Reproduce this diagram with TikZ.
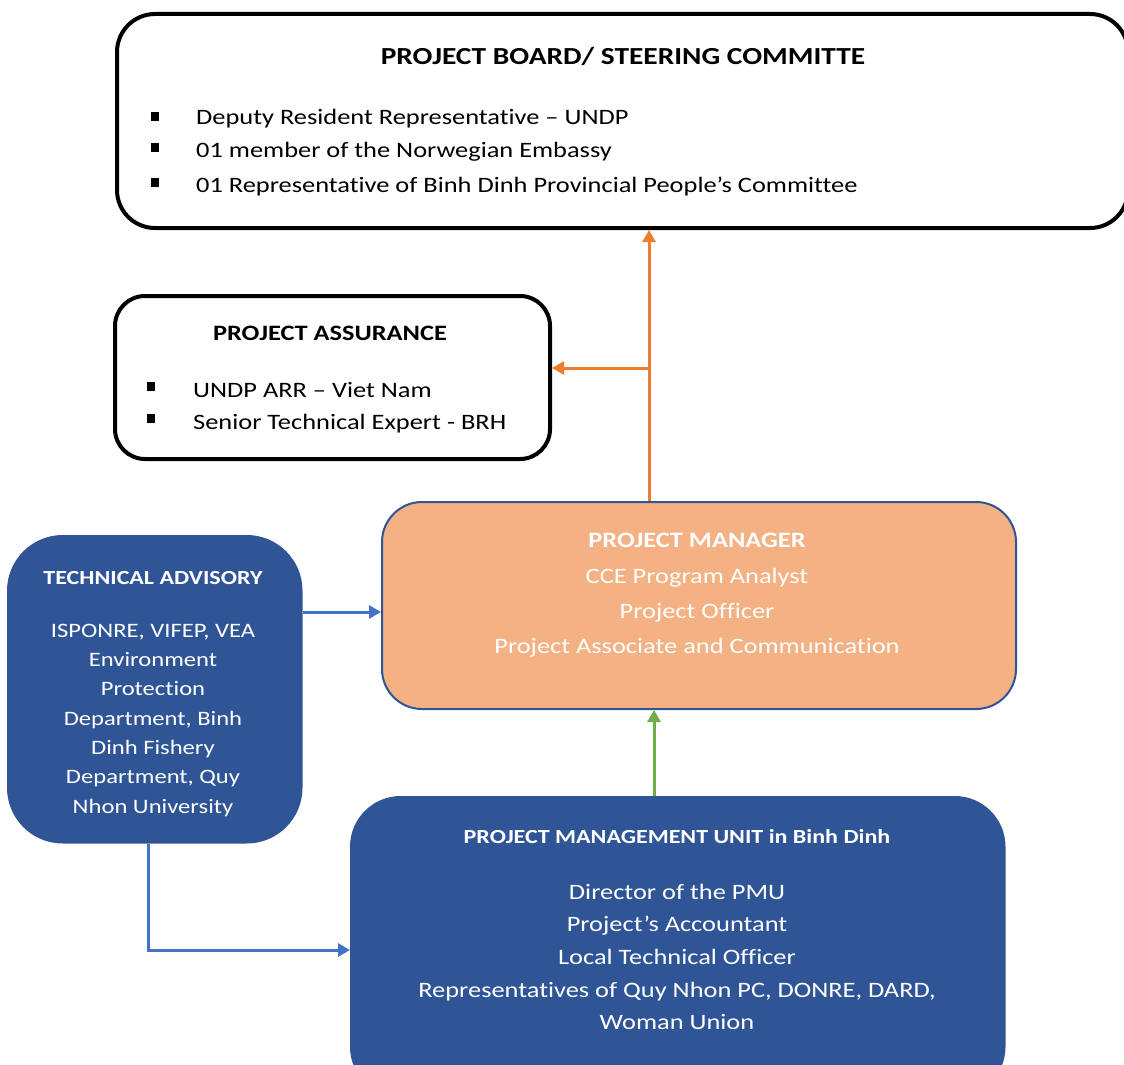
\documentclass[tikz,border=0pt]{standalone}
\usepackage{fontspec}
\setmainfont[FakeStretch=1.2, Ligatures=NoCommon]{Carlito}
\usetikzlibrary{arrows.meta}
\definecolor{dblue}{HTML}{2F5597}
\definecolor{lblue}{HTML}{4472C4}
\definecolor{orng}{HTML}{ED7D31}
\definecolor{pmfill}{HTML}{F4B183}
\definecolor{grn}{HTML}{70AD47}
\tikzset{
  blackbox/.style={draw=black, line width=4pt, fill=white, inner sep=0pt},
  bluebox/.style={draw=dblue, line width=1.5pt, fill=dblue, inner sep=0pt},
  pmbox/.style={draw=dblue, line width=2pt, fill=pmfill, inner sep=0pt, rounded corners=40pt},
  txt/.style={inner sep=0pt, font=\fontsize{22}{26}\selectfont},
  btxt/.style={inner sep=0pt, font=\fontsize{24.5}{28}\selectfont\bfseries},
  wtxt/.style={txt, text=white},
  bul/.style={fill=black, inner sep=0pt, minimum width=8pt, minimum height=9pt},
  conn/.style={line width=3pt, -{Triangle[length=12pt,width=13pt]}},
}
\begin{document}
\begin{tikzpicture}[x=1pt,y=-1pt]
\useasboundingbox (0,0) rectangle (1124,1065);
\clip (0,0) rectangle (1124,1065);
% boxes
\node[blackbox, rounded corners=38pt, minimum width=1011pt, minimum height=214pt, anchor=north west] (board) at (115,12) {};
\node[blackbox, rounded corners=30pt, minimum width=435pt, minimum height=163pt, anchor=north west] (assur) at (113,294) {};
\node[pmbox, minimum width=634pt, minimum height=207pt, anchor=north west] (pm) at (381,501) {};
\node[bluebox, rounded corners=55pt, minimum width=294pt, minimum height=307pt, anchor=north west] (ta) at (7,535) {};
\node[bluebox, rounded corners=50pt, minimum width=654pt, minimum height=300pt, anchor=north west] (pmu) at (350,796) {};
% board text
\node[btxt, anchor=base] (bt) at (623,65) {PROJECT BOARD/ STEERING COMMITTE};
\node[bul] (bb1) at (155,116) {};
\node[bul] (bb2) at (155,147) {};
\node[bul] (bb3) at (155,182) {};
\node[txt, anchor=base west] (b1) at (196,124) {Deputy Resident Representative – UNDP};
\node[txt, anchor=base west] (b2) at (196,157) {01 member of the Norwegian Embassy};
\node[txt, anchor=base west] (b3) at (196,192) {01 Representative of Binh Dinh Provincial People’s Committee};
% assurance text
\node[btxt, anchor=base, font=\fontsize{22}{26}\selectfont\bfseries] (at) at (330,340) {PROJECT ASSURANCE};
\node[bul] (ab1) at (151,386) {};
\node[bul] (ab2) at (151,418) {};
\node[txt, anchor=base west] (a1) at (193,397) {UNDP ARR – Viet Nam};
\node[txt, anchor=base west] (a2) at (193,429) {Senior Technical Expert - BRH};
% PM text
\node[wtxt, anchor=base, font=\fontsize{22}{26}\selectfont\bfseries] (pt) at (697,547) {PROJECT MANAGER};
\node[wtxt, anchor=base] (p1) at (697,583) {CCE Program Analyst};
\node[wtxt, anchor=base] (p2) at (697,618) {Project Officer};
\node[wtxt, anchor=base] (p3) at (697,653) {Project Associate and Communication};
% TA text
\node[wtxt, anchor=base, font=\fontsize{20}{24}\selectfont\bfseries] (tt) at (153,584) {TECHNICAL ADVISORY};
\node[wtxt, anchor=base, font=\fontsize{20.5}{24}\selectfont] (t1) at (153,637) {ISPONRE, VIFEP, VEA};
\node[wtxt, anchor=base, font=\fontsize{20.5}{24}\selectfont] (t2) at (153,666) {Environment};
\node[wtxt, anchor=base, font=\fontsize{20.5}{24}\selectfont] (t3) at (153,695) {Protection};
\node[wtxt, anchor=base, font=\fontsize{20.5}{24}\selectfont] (t4) at (153,725) {Department, Binh};
\node[wtxt, anchor=base, font=\fontsize{20.5}{24}\selectfont] (t5) at (153,754) {Dinh Fishery};
\node[wtxt, anchor=base, font=\fontsize{20.5}{24}\selectfont] (t6) at (153,783) {Department, Quy};
\node[wtxt, anchor=base, font=\fontsize{20.5}{24}\selectfont] (t7) at (153,813) {Nhon University};
% PMU text
\node[wtxt, anchor=base, font=\fontsize{20}{24}\selectfont\bfseries] (ut) at (677,843) {PROJECT MANAGEMENT UNIT in Binh Dinh};
\node[wtxt, anchor=base] (u1) at (677,899) {Director of the PMU};
\node[wtxt, anchor=base] (u2) at (677,931) {Project’s Accountant};
\node[wtxt, anchor=base] (u3) at (677,964) {Local Technical Officer};
\node[wtxt, anchor=base] (u4) at (677,997) {Representatives of Quy Nhon PC, DONRE, DARD,};
\node[wtxt, anchor=base] (u5) at (677,1029) {Woman Union};
% connectors
\coordinate (jx) at (649,368);
\coordinate (gx) at (654,0);
\coordinate (ty) at (0,612);
\coordinate (ex) at (148,950);
\draw[line width=3pt, draw=orng] (pm.north -| jx) -- (jx);
\draw[conn, draw=orng] (jx) -- (board.south -| jx);
\draw[conn, draw=orng] (jx) -- (assur.east |- jx);
\draw[conn, draw=grn] (pmu.north -| gx) -- (pm.south -| gx);
\draw[conn, draw=lblue] (ta.east |- ty) -- (pm.west |- ty);
\draw[conn, draw=lblue] (ta.south -| ex) -- (ex) -- (pmu.west |- ex);
\end{tikzpicture}
\end{document}
